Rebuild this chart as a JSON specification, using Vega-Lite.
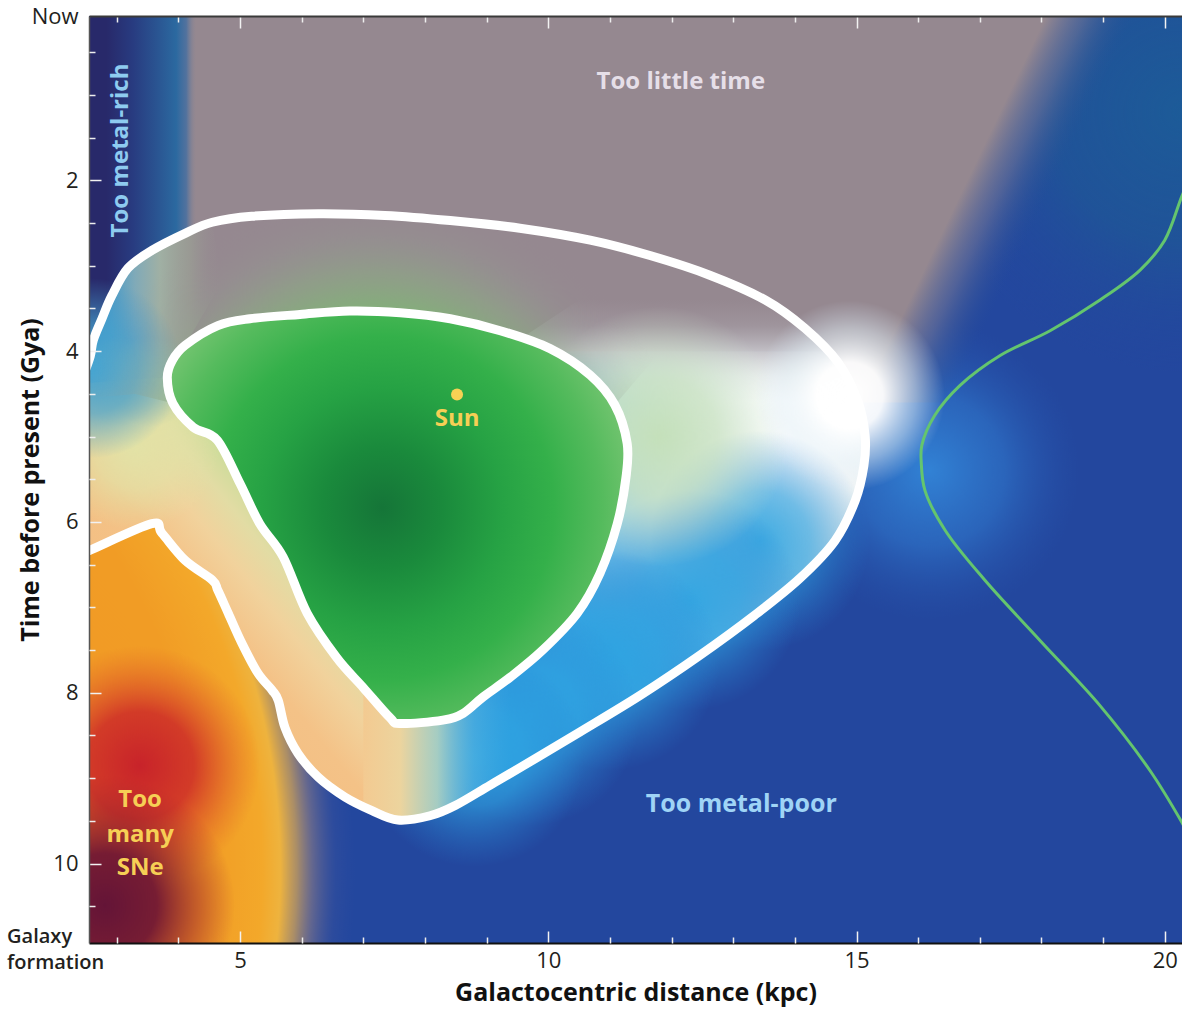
{
  "$schema": "https://vega.github.io/schema/vega-lite/v6.json",
  "width": 1093,
  "height": 927,
  "autosize": {"type": "none"},
  "padding": {"left": 89, "top": 16, "right": 0, "bottom": 68},
  "background": "white",
  "config": {"view": {"fill": "#23479e", "stroke": null}, "font": "Open Sans"},
  "datasets": {
    "tealTR": [{"x": 20.28, "y": 1.2}],
    "bluemid": [{"x": 16.19, "y": 5.4}],
    "grey": [
      {"i": 0, "x": 3.95, "y": -0.5}, {"i": 1, "x": 18.4, "y": -0.5}, {"i": 2, "x": 15.0, "y": 4.6},
      {"i": 3, "x": 14.0, "y": 4.45}, {"i": 4, "x": 12.8, "y": 4.5}, {"i": 5, "x": 11.6, "y": 4.9},
      {"i": 6, "x": 11.0, "y": 5.0}, {"i": 7, "x": 10.68, "y": 4.28}, {"i": 8, "x": 10.03, "y": 3.97},
      {"i": 9, "x": 9.22, "y": 3.76}, {"i": 10, "x": 8.41, "y": 3.62}, {"i": 11, "x": 7.6, "y": 3.55},
      {"i": 12, "x": 6.78, "y": 3.53}, {"i": 13, "x": 5.97, "y": 3.57}, {"i": 14, "x": 5.16, "y": 3.62},
      {"i": 15, "x": 4.64, "y": 3.7}, {"i": 16, "x": 4.11, "y": 3.93}, {"i": 17, "x": 3.9, "y": 4.11},
      {"i": 18, "x": 3.3, "y": 4.35}, {"i": 19, "x": 2.5, "y": 4.35}, {"i": 20, "x": 2.5, "y": 3.2},
      {"i": 21, "x": 3.95, "y": 1.5}
    ],
    "greyfade": [
      {"i": 0, "x": 18.1, "y": -0.5}, {"i": 1, "x": 19.9, "y": -0.5},
      {"i": 2, "x": 16.5, "y": 4.6}, {"i": 3, "x": 14.7, "y": 4.6}
    ],
    "navy": [
      {"i": 0, "x": 2.3, "y": -0.5}, {"i": 1, "x": 4.3, "y": -0.5}, {"i": 2, "x": 4.3, "y": 2.57},
      {"i": 3, "x": 4.11, "y": 2.62}, {"i": 4, "x": 3.57, "y": 2.82}, {"i": 5, "x": 3.18, "y": 3.03},
      {"i": 6, "x": 2.92, "y": 3.35}, {"i": 7, "x": 2.76, "y": 3.62}, {"i": 8, "x": 2.62, "y": 3.87},
      {"i": 9, "x": 2.57, "y": 4.06}, {"i": 10, "x": 2.3, "y": 4.3}
    ],
    "leftpale": [
      {"i": 0, "x": 2.45, "y": 4.3}, {"i": 1, "x": 2.57, "y": 4.06}, {"i": 2, "x": 2.62, "y": 3.87},
      {"i": 3, "x": 2.76, "y": 3.62}, {"i": 4, "x": 2.92, "y": 3.35}, {"i": 5, "x": 3.18, "y": 3.03},
      {"i": 6, "x": 3.57, "y": 2.82}, {"i": 7, "x": 4.11, "y": 2.62}, {"i": 8, "x": 4.55, "y": 2.49},
      {"i": 9, "x": 4.7, "y": 3.2}, {"i": 10, "x": 4.11, "y": 3.93}, {"i": 11, "x": 3.9, "y": 4.11},
      {"i": 12, "x": 3.82, "y": 4.31}, {"i": 13, "x": 3.3, "y": 4.33}, {"i": 14, "x": 2.4, "y": 4.38}
    ],
    "peach": [
      {"i": 0, "x": 2.4, "y": 6.38}, {"i": 1, "x": 2.57, "y": 6.33}, {"i": 2, "x": 3.57, "y": 6.02},
      {"i": 3, "x": 3.73, "y": 6.13}, {"i": 4, "x": 4.11, "y": 6.45}, {"i": 5, "x": 4.55, "y": 6.68},
      {"i": 6, "x": 4.64, "y": 6.8}, {"i": 7, "x": 4.81, "y": 7.07}, {"i": 8, "x": 5.03, "y": 7.42},
      {"i": 9, "x": 5.29, "y": 7.77}, {"i": 10, "x": 5.52, "y": 7.97}, {"i": 11, "x": 5.62, "y": 8.09},
      {"i": 12, "x": 5.73, "y": 8.41}, {"i": 13, "x": 5.94, "y": 8.71}, {"i": 14, "x": 6.27, "y": 8.99},
      {"i": 15, "x": 6.7, "y": 9.22}, {"i": 16, "x": 7.14, "y": 9.38}, {"i": 17, "x": 7.56, "y": 9.49},
      {"i": 18, "x": 8.08, "y": 9.44}, {"i": 19, "x": 8.3, "y": 8.9}, {"i": 20, "x": 7.6, "y": 8.36},
      {"i": 21, "x": 7.43, "y": 8.29}, {"i": 22, "x": 7.0, "y": 7.94}, {"i": 23, "x": 6.57, "y": 7.59},
      {"i": 24, "x": 6.09, "y": 7.07}, {"i": 25, "x": 5.7, "y": 6.41}, {"i": 26, "x": 5.32, "y": 6.02},
      {"i": 27, "x": 5.0, "y": 5.55}, {"i": 28, "x": 4.63, "y": 5.04}, {"i": 29, "x": 4.24, "y": 4.89},
      {"i": 30, "x": 3.91, "y": 4.61}, {"i": 31, "x": 3.82, "y": 4.31}, {"i": 32, "x": 3.3, "y": 4.27},
      {"i": 33, "x": 2.4, "y": 4.3}
    ],
    "yellow": [{"x": 3.3, "y": 5.1}],
    "seam": [{"x": 3.0, "y": 4.36}, {"x": 3.55, "y": 4.36}],
    "teal": [{"x": 2.6, "y": 4.2}],
    "orange": [
      {"i": 0, "x": 2.4, "y": 6.38}, {"i": 1, "x": 2.57, "y": 6.33}, {"i": 2, "x": 3.57, "y": 6.02},
      {"i": 3, "x": 3.73, "y": 6.13}, {"i": 4, "x": 4.11, "y": 6.45}, {"i": 5, "x": 4.55, "y": 6.68},
      {"i": 6, "x": 4.64, "y": 6.8}, {"i": 7, "x": 4.81, "y": 7.07}, {"i": 8, "x": 5.03, "y": 7.42},
      {"i": 9, "x": 5.29, "y": 7.77}, {"i": 10, "x": 5.52, "y": 7.97}, {"i": 11, "x": 5.62, "y": 8.09},
      {"i": 12, "x": 5.73, "y": 8.41}, {"i": 13, "x": 5.94, "y": 8.71}, {"i": 14, "x": 6.27, "y": 8.99},
      {"i": 15, "x": 6.5, "y": 9.2}, {"i": 16, "x": 7.2, "y": 9.6}, {"i": 17, "x": 7.8, "y": 10.4},
      {"i": 18, "x": 8.0, "y": 11.2}, {"i": 19, "x": 2.4, "y": 11.2}
    ],
    "red": [{"x": 3.378, "y": 8.852}],
    "maroon": [{"x": 2.81, "y": 10.49}],
    "pale": [
      {"i": 0, "x": 10.09, "y": 4.0}, {"i": 1, "x": 10.68, "y": 4.28},
      {"i": 2, "x": 11.08, "y": 4.63}, {"i": 3, "x": 11.28, "y": 5.08}, {"i": 4, "x": 11.26, "y": 5.48},
      {"i": 5, "x": 11.12, "y": 6.02}, {"i": 6, "x": 10.84, "y": 6.6}, {"i": 7, "x": 10.47, "y": 7.07},
      {"i": 8, "x": 9.91, "y": 7.5}, {"i": 9, "x": 9.38, "y": 7.82}, {"i": 10, "x": 8.94, "y": 8.05},
      {"i": 11, "x": 8.62, "y": 8.24}, {"i": 12, "x": 8.29, "y": 8.32}, {"i": 13, "x": 7.6, "y": 8.36},
      {"i": 14, "x": 7.56, "y": 9.49}, {"i": 15, "x": 8.08, "y": 9.44}, {"i": 16, "x": 8.49, "y": 9.32},
      {"i": 17, "x": 9.06, "y": 9.08}, {"i": 18, "x": 9.7, "y": 8.81}, {"i": 19, "x": 10.51, "y": 8.46},
      {"i": 20, "x": 11.49, "y": 8.03}, {"i": 21, "x": 12.46, "y": 7.56}, {"i": 22, "x": 13.35, "y": 7.09},
      {"i": 23, "x": 14.08, "y": 6.66}, {"i": 24, "x": 14.65, "y": 6.22}, {"i": 25, "x": 14.98, "y": 5.75},
      {"i": 26, "x": 15.12, "y": 5.34}, {"i": 27, "x": 15.14, "y": 4.99}, {"i": 28, "x": 15.02, "y": 4.58},
      {"i": 29, "x": 14.7, "y": 4.13}, {"i": 30, "x": 14.52, "y": 4.0}
    ],
    "cyan": [
      {"x": 13.43, "y": 6.22}, {"x": 12.3, "y": 6.92}, {"x": 11.0, "y": 7.62},
      {"x": 9.7, "y": 8.27}, {"x": 8.8, "y": 8.75}
    ],
    "transition": [
      {"i": 0, "x": 7.0, "y": 7.94}, {"i": 1, "x": 7.43, "y": 8.29}, {"i": 2, "x": 7.6, "y": 8.36},
      {"i": 3, "x": 8.29, "y": 8.32}, {"i": 4, "x": 8.62, "y": 8.24}, {"i": 5, "x": 8.94, "y": 8.05},
      {"i": 6, "x": 9.38, "y": 7.82}, {"i": 7, "x": 9.4, "y": 7.8}, {"i": 8, "x": 9.4, "y": 8.94},
      {"i": 9, "x": 9.06, "y": 9.08}, {"i": 10, "x": 8.49, "y": 9.32}, {"i": 11, "x": 8.08, "y": 9.44},
      {"i": 12, "x": 7.56, "y": 9.49}, {"i": 13, "x": 7.14, "y": 9.38}, {"i": 14, "x": 7.0, "y": 9.33}
    ],
    "band": [
      {"i": 0, "x": 10.5, "y": 3.4}, {"i": 1, "x": 13.52, "y": 3.4}, {"i": 2, "x": 14.16, "y": 3.73},
      {"i": 3, "x": 14.7, "y": 4.13}, {"i": 4, "x": 15.02, "y": 4.58}, {"i": 5, "x": 15.02, "y": 4.6},
      {"i": 6, "x": 11.0, "y": 4.6}, {"i": 7, "x": 10.68, "y": 4.28}, {"i": 8, "x": 10.03, "y": 3.97},
      {"i": 9, "x": 9.6, "y": 3.83}
    ],
    "palegreen": [{"x": 11.8, "y": 5.0}],
    "sage": [
      {"i": 0, "x": 2.57, "y": 4.06}, {"i": 1, "x": 2.62, "y": 3.87}, {"i": 2, "x": 2.76, "y": 3.62},
      {"i": 3, "x": 2.92, "y": 3.35}, {"i": 4, "x": 3.18, "y": 3.03}, {"i": 5, "x": 3.57, "y": 2.82},
      {"i": 6, "x": 4.11, "y": 2.62}, {"i": 7, "x": 4.55, "y": 2.49}, {"i": 8, "x": 5.19, "y": 2.42},
      {"i": 9, "x": 6.27, "y": 2.39}, {"i": 10, "x": 7.35, "y": 2.41}, {"i": 11, "x": 8.41, "y": 2.47},
      {"i": 12, "x": 9.54, "y": 2.56}, {"i": 13, "x": 10.68, "y": 2.7}, {"i": 14, "x": 11.65, "y": 2.88},
      {"i": 15, "x": 12.62, "y": 3.11}, {"i": 16, "x": 13.52, "y": 3.4}, {"i": 17, "x": 14.16, "y": 3.73},
      {"i": 18, "x": 12.0, "y": 3.85}, {"i": 19, "x": 11.08, "y": 4.63}, {"i": 20, "x": 10.68, "y": 4.28},
      {"i": 21, "x": 10.03, "y": 3.97}, {"i": 22, "x": 9.22, "y": 3.76}, {"i": 23, "x": 8.41, "y": 3.62},
      {"i": 24, "x": 7.6, "y": 3.55}, {"i": 25, "x": 6.78, "y": 3.53}, {"i": 26, "x": 5.97, "y": 3.57},
      {"i": 27, "x": 5.16, "y": 3.62}, {"i": 28, "x": 4.64, "y": 3.7}, {"i": 29, "x": 4.11, "y": 3.93},
      {"i": 30, "x": 3.9, "y": 4.11}, {"i": 31, "x": 3.82, "y": 4.31}, {"i": 32, "x": 3.91, "y": 4.61},
      {"i": 33, "x": 3.3, "y": 4.5}, {"i": 34, "x": 2.5, "y": 4.55}
    ],
    "glow": [{"x": 14.89, "y": 4.52}],
    "inner": [
      {"i": 0, "x": 3.82, "y": 4.31}, {"i": 1, "x": 3.9, "y": 4.11}, {"i": 2, "x": 4.11, "y": 3.93},
      {"i": 3, "x": 4.64, "y": 3.7}, {"i": 4, "x": 5.16, "y": 3.62}, {"i": 5, "x": 5.97, "y": 3.57},
      {"i": 6, "x": 6.78, "y": 3.53}, {"i": 7, "x": 7.6, "y": 3.55}, {"i": 8, "x": 8.41, "y": 3.62},
      {"i": 9, "x": 9.22, "y": 3.76}, {"i": 10, "x": 10.03, "y": 3.97}, {"i": 11, "x": 10.68, "y": 4.28},
      {"i": 12, "x": 11.08, "y": 4.63}, {"i": 13, "x": 11.28, "y": 5.08}, {"i": 14, "x": 11.26, "y": 5.48},
      {"i": 15, "x": 11.12, "y": 6.02}, {"i": 16, "x": 10.84, "y": 6.6}, {"i": 17, "x": 10.47, "y": 7.07},
      {"i": 18, "x": 9.91, "y": 7.5}, {"i": 19, "x": 9.38, "y": 7.82}, {"i": 20, "x": 8.94, "y": 8.05},
      {"i": 21, "x": 8.62, "y": 8.24}, {"i": 22, "x": 8.29, "y": 8.32}, {"i": 23, "x": 7.6, "y": 8.36},
      {"i": 24, "x": 7.43, "y": 8.29}, {"i": 25, "x": 7.0, "y": 7.94}, {"i": 26, "x": 6.57, "y": 7.59},
      {"i": 27, "x": 6.09, "y": 7.07}, {"i": 28, "x": 5.7, "y": 6.41}, {"i": 29, "x": 5.32, "y": 6.02},
      {"i": 30, "x": 5.0, "y": 5.55}, {"i": 31, "x": 4.63, "y": 5.04}, {"i": 32, "x": 4.24, "y": 4.89},
      {"i": 33, "x": 3.91, "y": 4.61}
    ],
    "outer": [
      {"i": 0, "x": 2.45, "y": 4.3}, {"i": 1, "x": 2.57, "y": 4.06}, {"i": 2, "x": 2.62, "y": 3.87},
      {"i": 3, "x": 2.76, "y": 3.62}, {"i": 4, "x": 2.92, "y": 3.35}, {"i": 5, "x": 3.18, "y": 3.03},
      {"i": 6, "x": 3.57, "y": 2.82}, {"i": 7, "x": 4.11, "y": 2.62}, {"i": 8, "x": 4.55, "y": 2.49},
      {"i": 9, "x": 5.19, "y": 2.42}, {"i": 10, "x": 6.27, "y": 2.39}, {"i": 11, "x": 7.35, "y": 2.41},
      {"i": 12, "x": 8.41, "y": 2.47}, {"i": 13, "x": 9.54, "y": 2.56}, {"i": 14, "x": 10.68, "y": 2.7},
      {"i": 15, "x": 11.65, "y": 2.88}, {"i": 16, "x": 12.62, "y": 3.11}, {"i": 17, "x": 13.52, "y": 3.4},
      {"i": 18, "x": 14.16, "y": 3.73}, {"i": 19, "x": 14.7, "y": 4.13}, {"i": 20, "x": 15.02, "y": 4.58},
      {"i": 21, "x": 15.14, "y": 4.99}, {"i": 22, "x": 15.12, "y": 5.34}, {"i": 23, "x": 14.98, "y": 5.75},
      {"i": 24, "x": 14.65, "y": 6.22}, {"i": 25, "x": 14.08, "y": 6.66}, {"i": 26, "x": 13.35, "y": 7.09},
      {"i": 27, "x": 12.46, "y": 7.56}, {"i": 28, "x": 11.49, "y": 8.03}, {"i": 29, "x": 10.51, "y": 8.46},
      {"i": 30, "x": 9.7, "y": 8.81}, {"i": 31, "x": 9.06, "y": 9.08}, {"i": 32, "x": 8.49, "y": 9.32},
      {"i": 33, "x": 8.08, "y": 9.44}, {"i": 34, "x": 7.56, "y": 9.49}, {"i": 35, "x": 7.14, "y": 9.38},
      {"i": 36, "x": 6.7, "y": 9.22}, {"i": 37, "x": 6.27, "y": 8.99}, {"i": 38, "x": 5.94, "y": 8.71},
      {"i": 39, "x": 5.73, "y": 8.41}, {"i": 40, "x": 5.62, "y": 8.09}, {"i": 41, "x": 5.52, "y": 7.97},
      {"i": 42, "x": 5.29, "y": 7.77}, {"i": 43, "x": 5.03, "y": 7.42}, {"i": 44, "x": 4.81, "y": 7.07},
      {"i": 45, "x": 4.64, "y": 6.8}, {"i": 46, "x": 4.55, "y": 6.68}, {"i": 47, "x": 4.11, "y": 6.45},
      {"i": 48, "x": 3.73, "y": 6.13}, {"i": 49, "x": 3.57, "y": 6.02}, {"i": 50, "x": 2.57, "y": 6.33},
      {"i": 51, "x": 2.4, "y": 6.38}
    ],
    "greenline": [
      {"i": 0, "x": 20.45, "y": 1.9}, {"i": 1, "x": 20.28, "y": 2.18}, {"i": 2, "x": 20.0, "y": 2.7},
      {"i": 3, "x": 19.6, "y": 3.05}, {"i": 4, "x": 18.95, "y": 3.4}, {"i": 5, "x": 18.14, "y": 3.76},
      {"i": 6, "x": 17.33, "y": 4.05}, {"i": 7, "x": 16.68, "y": 4.4}, {"i": 8, "x": 16.27, "y": 4.75},
      {"i": 9, "x": 16.06, "y": 5.1}, {"i": 10, "x": 16.05, "y": 5.3}, {"i": 11, "x": 16.11, "y": 5.63},
      {"i": 12, "x": 16.44, "y": 6.1}, {"i": 13, "x": 17.08, "y": 6.68}, {"i": 14, "x": 17.98, "y": 7.39},
      {"i": 15, "x": 18.95, "y": 8.15}, {"i": 16, "x": 19.76, "y": 8.91}, {"i": 17, "x": 20.28, "y": 9.52},
      {"i": 18, "x": 20.45, "y": 9.75}
    ],
    "sun": [{"x": 8.52, "y": 4.507}],
    "tooLittle": [{"x": 12.15, "y": 0.852, "label": "Too little time"}],
    "metalRich": [{"x": 3.07, "y": 1.65, "label": "Too metal-rich"}],
    "metalPoor": [{"x": 13.13, "y": 9.3, "label": "Too metal-poor"}],
    "yellowLabels": [
      {"x": 8.52, "y": 4.79, "label": "Sun"},
      {"x": 3.38, "y": 9.26, "label": "Too"},
      {"x": 3.38, "y": 9.66, "label": "many"},
      {"x": 3.38, "y": 10.05, "label": "SNe"}
    ],
    "galaxy": [{"x": 1.221, "y": 10.855, "label": "Galaxy\nformation"}]
  },
  "layer": [
    {
      "data": {"name": "tealTR"},
      "mark": {"type": "circle", "size": 270400, "opacity": 1, "stroke": "transparent", "strokeWidth": 0, "clip": true,
        "fill": {"gradient": "radial", "x1": 0.5, "y1": 0.5, "r1": 0, "x2": 0.5, "y2": 0.5, "r2": 0.5,
          "stops": [{"offset": 0, "color": "rgba(28,92,152,0.95)"}, {"offset": 0.5, "color": "rgba(30,88,150,0.7)"}, {"offset": 1, "color": "rgba(35,71,158,0)"}]}},
      "encoding": {
        "x": {"field": "x", "type": "quantitative", "scale": {"domain": [2.55, 20.28], "nice": false, "zero": false}, "axis": null},
        "y": {"field": "y", "type": "quantitative", "scale": {"domain": [0.075, 10.93], "reverse": true, "nice": false, "zero": false}, "axis": null}
      }
    },
    {
      "data": {"name": "bluemid"},
      "mark": {"type": "circle", "size": 90000, "opacity": 1, "stroke": "transparent", "strokeWidth": 0, "clip": true,
        "fill": {"gradient": "radial", "x1": 0.5, "y1": 0.5, "r1": 0, "x2": 0.5, "y2": 0.5, "r2": 0.5,
          "stops": [{"offset": 0, "color": "rgba(52,140,222,0.85)"}, {"offset": 0.5, "color": "rgba(50,130,215,0.5)"}, {"offset": 1, "color": "rgba(40,90,180,0)"}]}},
      "encoding": {
        "x": {"field": "x", "type": "quantitative", "scale": {"domain": [2.55, 20.28], "nice": false, "zero": false}, "axis": null},
        "y": {"field": "y", "type": "quantitative", "scale": {"domain": [0.075, 10.93], "reverse": true, "nice": false, "zero": false}, "axis": null}
      }
    },
    {
      "data": {"name": "grey"},
      "mark": {"type": "line", "interpolate": "linear-closed", "fill": "#958890", "stroke": "transparent", "strokeWidth": 0, "clip": true},
      "encoding": {
        "x": {"field": "x", "type": "quantitative", "scale": {"domain": [2.55, 20.28], "nice": false, "zero": false},
          "axis": {"orient": "top", "values": [3, 4, 6, 7, 8, 9, 11, 12, 13, 14, 16, 17, 18, 19], "labels": false, "domain": false, "grid": false, "ticks": true, "tickSize": -6, "tickColor": "#eeeeee", "tickWidth": 1.5, "title": null, "zindex": 1}},
        "y": {"field": "y", "type": "quantitative", "scale": {"domain": [0.075, 10.93], "reverse": true, "nice": false, "zero": false}, "axis": null},
        "order": {"field": "i", "type": "quantitative"}
      }
    },
    {
      "data": {"name": "greyfade"},
      "mark": {"type": "line", "interpolate": "linear-closed", "stroke": "transparent", "strokeWidth": 0, "clip": true,
        "fill": {"gradient": "linear", "x1": 0.6538, "y1": 0.0001, "x2": 0.8964, "y2": 0.1586,
          "stops": [{"offset": 0, "color": "rgba(149,136,144,1)"}, {"offset": 0.2, "color": "rgba(149,136,144,1)"}, {"offset": 0.55, "color": "rgba(112,116,150,0.6)"}, {"offset": 1, "color": "rgba(40,80,150,0)"}]}},
      "encoding": {
        "x": {"field": "x", "type": "quantitative", "scale": {"domain": [2.55, 20.28], "nice": false, "zero": false}, "axis": null},
        "y": {"field": "y", "type": "quantitative", "scale": {"domain": [0.075, 10.93], "reverse": true, "nice": false, "zero": false}, "axis": null},
        "order": {"field": "i", "type": "quantitative"}
      }
    },
    {
      "data": {"name": "navy"},
      "mark": {"type": "line", "interpolate": "linear-closed", "stroke": "transparent", "strokeWidth": 0, "clip": true,
        "fill": {"gradient": "linear", "x1": 0.0001, "y1": 0.0001, "x2": 1, "y2": 0.0001,
          "stops": [{"offset": 0, "color": "#28296a"}, {"offset": 0.267, "color": "#28296a"}, {"offset": 0.478, "color": "#283b80"}, {"offset": 0.682, "color": "#2a5592"}, {"offset": 0.832, "color": "#2b69a0"}, {"offset": 0.914, "color": "rgba(70,110,160,0.85)"}, {"offset": 1, "color": "rgba(149,136,144,0)"}]}},
      "encoding": {
        "x": {"field": "x", "type": "quantitative", "scale": {"domain": [2.55, 20.28], "nice": false, "zero": false}, "axis": null},
        "y": {"field": "y", "type": "quantitative", "scale": {"domain": [0.075, 10.93], "reverse": true, "nice": false, "zero": false}, "axis": null},
        "order": {"field": "i", "type": "quantitative"}
      }
    },
    {
      "data": {"name": "peach"},
      "mark": {"type": "line", "interpolate": "linear-closed", "stroke": "transparent", "strokeWidth": 0, "clip": true,
        "fill": {"gradient": "linear", "x1": 0.0001, "y1": 1, "x2": 1, "y2": 0.0001,
          "stops": [{"offset": 0, "color": "#f2b878"}, {"offset": 0.42, "color": "#f4c287"}, {"offset": 0.5, "color": "#f1d29c"}, {"offset": 0.56, "color": "#e2dca4"}, {"offset": 0.62, "color": "#c8dc98"}, {"offset": 1, "color": "#c0d890"}]}},
      "encoding": {
        "x": {"field": "x", "type": "quantitative", "scale": {"domain": [2.55, 20.28], "nice": false, "zero": false}, "axis": null},
        "y": {"field": "y", "type": "quantitative", "scale": {"domain": [0.075, 10.93], "reverse": true, "nice": false, "zero": false}, "axis": null},
        "order": {"field": "i", "type": "quantitative"}
      }
    },
    {
      "data": {"name": "leftpale"},
      "mark": {"type": "line", "interpolate": "linear-closed", "stroke": "transparent", "strokeWidth": 0, "clip": true,
        "fill": {"gradient": "linear", "x1": 0.0001, "y1": 0.0001, "x2": 1, "y2": 0.0001,
          "stops": [{"offset": 0, "color": "#3a8cc4"}, {"offset": 0.073, "color": "#3a8cc4"}, {"offset": 0.214, "color": "#4a9cc8"}, {"offset": 0.39, "color": "#80aab8"}, {"offset": 0.566, "color": "#a0b0a4"}, {"offset": 0.78, "color": "rgba(156,165,150,0.6)"}, {"offset": 1, "color": "rgba(150,140,145,0)"}]}},
      "encoding": {
        "x": {"field": "x", "type": "quantitative", "scale": {"domain": [2.55, 20.28], "nice": false, "zero": false}, "axis": null},
        "y": {"field": "y", "type": "quantitative", "scale": {"domain": [0.075, 10.93], "reverse": true, "nice": false, "zero": false}, "axis": null},
        "order": {"field": "i", "type": "quantitative"}
      }
    },
    {
      "data": {"name": "yellow"},
      "mark": {"type": "circle", "size": 28900, "opacity": 1, "stroke": "transparent", "strokeWidth": 0, "clip": true,
        "fill": {"gradient": "radial", "x1": 0.5, "y1": 0.5, "r1": 0, "x2": 0.5, "y2": 0.5, "r2": 0.5,
          "stops": [{"offset": 0, "color": "rgba(226,226,166,1)"}, {"offset": 0.5, "color": "rgba(226,226,166,0.7)"}, {"offset": 1, "color": "rgba(226,226,166,0)"}]}},
      "encoding": {
        "x": {"field": "x", "type": "quantitative", "scale": {"domain": [2.55, 20.28], "nice": false, "zero": false}, "axis": null},
        "y": {"field": "y", "type": "quantitative", "scale": {"domain": [0.075, 10.93], "reverse": true, "nice": false, "zero": false}, "axis": null}
      }
    },
    {
      "data": {"name": "seam"},
      "mark": {"type": "circle", "size": 8100, "opacity": 1, "stroke": "transparent", "strokeWidth": 0, "clip": true,
        "fill": {"gradient": "radial", "x1": 0.5, "y1": 0.5, "r1": 0, "x2": 0.5, "y2": 0.5, "r2": 0.5,
          "stops": [{"offset": 0, "color": "rgba(176,198,168,0.9)"}, {"offset": 0.5, "color": "rgba(176,198,168,0.6)"}, {"offset": 1, "color": "rgba(176,198,168,0)"}]}},
      "encoding": {
        "x": {"field": "x", "type": "quantitative", "scale": {"domain": [2.55, 20.28], "nice": false, "zero": false}, "axis": null},
        "y": {"field": "y", "type": "quantitative", "scale": {"domain": [0.075, 10.93], "reverse": true, "nice": false, "zero": false}, "axis": null}
      }
    },
    {
      "data": {"name": "teal"},
      "mark": {"type": "circle", "size": 32400, "opacity": 1, "stroke": "transparent", "strokeWidth": 0, "clip": true,
        "fill": {"gradient": "radial", "x1": 0.5, "y1": 0.5, "r1": 0, "x2": 0.5, "y2": 0.5, "r2": 0.5,
          "stops": [{"offset": 0, "color": "rgba(70,165,210,1)"}, {"offset": 0.5, "color": "rgba(70,160,205,0.7)"}, {"offset": 1, "color": "rgba(70,150,200,0)"}]}},
      "encoding": {
        "x": {"field": "x", "type": "quantitative", "scale": {"domain": [2.55, 20.28], "nice": false, "zero": false}, "axis": null},
        "y": {"field": "y", "type": "quantitative", "scale": {"domain": [0.075, 10.93], "reverse": true, "nice": false, "zero": false}, "axis": null}
      }
    },
    {
      "data": {"name": "orange"},
      "mark": {"type": "line", "interpolate": "linear-closed", "stroke": "transparent", "strokeWidth": 0, "clip": true,
        "fill": {"gradient": "radial", "x1": -0.975, "y1": 0.784, "r1": 0, "x2": -0.975, "y2": 0.784, "r2": 1.7074,
          "stops": [{"offset": 0, "color": "#ee9424"}, {"offset": 0.8, "color": "#f19c25"}, {"offset": 0.877, "color": "#f3a82a"}, {"offset": 0.901, "color": "#eeb33e"}, {"offset": 0.923, "color": "rgba(215,165,85,0.75)"}, {"offset": 0.944, "color": "rgba(175,140,125,0.45)"}, {"offset": 0.974, "color": "rgba(110,105,150,0.12)"}, {"offset": 1, "color": "rgba(80,90,160,0)"}]}},
      "encoding": {
        "x": {"field": "x", "type": "quantitative", "scale": {"domain": [2.55, 20.28], "nice": false, "zero": false}, "axis": null},
        "y": {"field": "y", "type": "quantitative", "scale": {"domain": [0.075, 10.93], "reverse": true, "nice": false, "zero": false}, "axis": null},
        "order": {"field": "i", "type": "quantitative"}
      }
    },
    {
      "data": {"name": "red"},
      "mark": {"type": "circle", "size": 57600, "opacity": 1, "stroke": "transparent", "strokeWidth": 0, "clip": true,
        "fill": {"gradient": "radial", "x1": 0.5, "y1": 0.5, "r1": 0, "x2": 0.5, "y2": 0.5, "r2": 0.5,
          "stops": [{"offset": 0, "color": "rgba(200,35,42,1)"}, {"offset": 0.45, "color": "rgba(205,42,40,0.85)"}, {"offset": 1, "color": "rgba(225,90,40,0)"}]}},
      "encoding": {
        "x": {"field": "x", "type": "quantitative", "scale": {"domain": [2.55, 20.28], "nice": false, "zero": false}, "axis": null},
        "y": {"field": "y", "type": "quantitative", "scale": {"domain": [0.075, 10.93], "reverse": true, "nice": false, "zero": false}, "axis": null}
      }
    },
    {
      "data": {"name": "maroon"},
      "mark": {"type": "circle", "size": 67600, "opacity": 1, "stroke": "transparent", "strokeWidth": 0, "clip": true,
        "fill": {"gradient": "radial", "x1": 0.5, "y1": 0.5, "r1": 0, "x2": 0.5, "y2": 0.5, "r2": 0.5,
          "stops": [{"offset": 0, "color": "rgba(100,20,55,1)"}, {"offset": 0.4, "color": "rgba(112,22,52,0.95)"}, {"offset": 0.7, "color": "rgba(150,28,45,0.5)"}, {"offset": 1, "color": "rgba(170,30,45,0)"}]}},
      "encoding": {
        "x": {"field": "x", "type": "quantitative", "scale": {"domain": [2.55, 20.28], "nice": false, "zero": false}, "axis": null},
        "y": {"field": "y", "type": "quantitative", "scale": {"domain": [0.075, 10.93], "reverse": true, "nice": false, "zero": false}, "axis": null}
      }
    },
    {
      "data": {"name": "pale"},
      "mark": {"type": "line", "interpolate": "linear-closed", "stroke": "transparent", "strokeWidth": 0, "clip": true,
        "fill": {"gradient": "radial", "x1": 0.9023, "y1": 0.1051, "r1": 0, "x2": 0.9023, "y2": 0.1051, "r2": 0.896,
          "stops": [{"offset": 0, "color": "#ffffff"}, {"offset": 0.119, "color": "#ffffff"}, {"offset": 0.214, "color": "#f2f6f6"}, {"offset": 0.333, "color": "#dceaea"}, {"offset": 0.476, "color": "#b0d6e2"}, {"offset": 0.619, "color": "#70c0e8"}, {"offset": 0.762, "color": "#40aae2"}, {"offset": 1, "color": "#2f9cdc"}]}},
      "encoding": {
        "x": {"field": "x", "type": "quantitative", "scale": {"domain": [2.55, 20.28], "nice": false, "zero": false}, "axis": null},
        "y": {"field": "y", "type": "quantitative", "scale": {"domain": [0.075, 10.93], "reverse": true, "nice": false, "zero": false}, "axis": null},
        "order": {"field": "i", "type": "quantitative"}
      }
    },
    {
      "data": {"name": "cyan"},
      "mark": {"type": "circle", "size": 48400, "opacity": 1, "stroke": "transparent", "strokeWidth": 0, "clip": true,
        "fill": {"gradient": "radial", "x1": 0.5, "y1": 0.5, "r1": 0, "x2": 0.5, "y2": 0.5, "r2": 0.5,
          "stops": [{"offset": 0, "color": "rgba(46,165,226,0.9)"}, {"offset": 0.45, "color": "rgba(46,160,224,0.65)"}, {"offset": 1, "color": "rgba(40,130,210,0)"}]}},
      "encoding": {
        "x": {"field": "x", "type": "quantitative", "scale": {"domain": [2.55, 20.28], "nice": false, "zero": false}, "axis": null},
        "y": {"field": "y", "type": "quantitative", "scale": {"domain": [0.075, 10.93], "reverse": true, "nice": false, "zero": false}, "axis": null}
      }
    },
    {
      "data": {"name": "transition"},
      "mark": {"type": "line", "interpolate": "linear-closed", "stroke": "transparent", "strokeWidth": 0, "clip": true,
        "fill": {"gradient": "linear", "x1": 0.0001, "y1": 0.0001, "x2": 1, "y2": 0.0001,
          "stops": [{"offset": 0, "color": "#f3ca91"}, {"offset": 0.25, "color": "#ecd49e"}, {"offset": 0.5, "color": "rgba(205,220,185,0.75)"}, {"offset": 0.75, "color": "rgba(120,190,220,0.3)"}, {"offset": 1, "color": "rgba(80,170,225,0)"}]}},
      "encoding": {
        "x": {"field": "x", "type": "quantitative", "scale": {"domain": [2.55, 20.28], "nice": false, "zero": false}, "axis": null},
        "y": {"field": "y", "type": "quantitative", "scale": {"domain": [0.075, 10.93], "reverse": true, "nice": false, "zero": false}, "axis": null},
        "order": {"field": "i", "type": "quantitative"}
      }
    },
    {
      "data": {"name": "band"},
      "mark": {"type": "line", "interpolate": "linear-closed", "stroke": "transparent", "strokeWidth": 0, "clip": true,
        "fill": {"gradient": "linear", "x1": 0.001, "y1": 0.0001, "x2": 0.001, "y2": 1,
          "stops": [{"offset": 0, "color": "rgba(175,170,178,0)"}, {"offset": 0.25, "color": "rgba(182,178,186,0.3)"}, {"offset": 0.5, "color": "rgba(196,194,200,0.95)"}, {"offset": 0.75, "color": "rgba(215,220,220,0.45)"}, {"offset": 1, "color": "rgba(225,232,230,0)"}]}},
      "encoding": {
        "x": {"field": "x", "type": "quantitative", "scale": {"domain": [2.55, 20.28], "nice": false, "zero": false}, "axis": null},
        "y": {"field": "y", "type": "quantitative", "scale": {"domain": [0.075, 10.93], "reverse": true, "nice": false, "zero": false}, "axis": null},
        "order": {"field": "i", "type": "quantitative"}
      }
    },
    {
      "data": {"name": "palegreen"},
      "mark": {"type": "circle", "size": 67600, "opacity": 1, "stroke": "transparent", "strokeWidth": 0, "clip": true,
        "fill": {"gradient": "radial", "x1": 0.5, "y1": 0.5, "r1": 0, "x2": 0.5, "y2": 0.5, "r2": 0.5,
          "stops": [{"offset": 0, "color": "rgba(196,224,184,0.95)"}, {"offset": 0.45, "color": "rgba(200,226,190,0.7)"}, {"offset": 1, "color": "rgba(210,232,210,0)"}]}},
      "encoding": {
        "x": {"field": "x", "type": "quantitative", "scale": {"domain": [2.55, 20.28], "nice": false, "zero": false}, "axis": null},
        "y": {"field": "y", "type": "quantitative", "scale": {"domain": [0.075, 10.93], "reverse": true, "nice": false, "zero": false}, "axis": null}
      }
    },
    {
      "data": {"name": "sage"},
      "mark": {"type": "line", "interpolate": "linear-closed", "stroke": "transparent", "strokeWidth": 0, "clip": true,
        "fill": {"gradient": "radial", "x1": 0.4016, "y1": 0.7579, "r1": 0, "x2": 0.4016, "y2": 0.7579, "r2": 0.4326,
          "stops": [{"offset": 0, "color": "rgba(130,178,120,0.9)"}, {"offset": 0.594, "color": "rgba(130,178,120,0.9)"}, {"offset": 0.72, "color": "rgba(140,172,132,0.55)"}, {"offset": 0.84, "color": "rgba(148,160,145,0.2)"}, {"offset": 0.92, "color": "rgba(149,150,145,0.05)"}, {"offset": 1, "color": "rgba(149,140,144,0)"}]}},
      "encoding": {
        "x": {"field": "x", "type": "quantitative", "scale": {"domain": [2.55, 20.28], "nice": false, "zero": false}, "axis": null},
        "y": {"field": "y", "type": "quantitative", "scale": {"domain": [0.075, 10.93], "reverse": true, "nice": false, "zero": false}, "axis": null},
        "order": {"field": "i", "type": "quantitative"}
      }
    },
    {
      "data": {"name": "glow"},
      "mark": {"type": "circle", "size": 36100, "opacity": 1, "stroke": "transparent", "strokeWidth": 0, "clip": true,
        "fill": {"gradient": "radial", "x1": 0.5, "y1": 0.5, "r1": 0, "x2": 0.5, "y2": 0.5, "r2": 0.5,
          "stops": [{"offset": 0, "color": "rgba(255,255,255,1)"}, {"offset": 0.35, "color": "rgba(255,255,255,0.95)"}, {"offset": 0.7, "color": "rgba(225,238,245,0.5)"}, {"offset": 1, "color": "rgba(210,225,240,0)"}]}},
      "encoding": {
        "x": {"field": "x", "type": "quantitative", "scale": {"domain": [2.55, 20.28], "nice": false, "zero": false}, "axis": null},
        "y": {"field": "y", "type": "quantitative", "scale": {"domain": [0.075, 10.93], "reverse": true, "nice": false, "zero": false}, "axis": null}
      }
    },
    {
      "data": {"name": "inner"},
      "mark": {"type": "line", "interpolate": "cardinal-closed", "stroke": "transparent", "strokeWidth": 0, "clip": true,
        "fill": {"gradient": "radial", "x1": 0.467, "y1": 0.479, "r1": 0, "x2": 0.467, "y2": 0.479, "r2": 0.62,
          "stops": [{"offset": 0, "color": "#157538"}, {"offset": 0.21, "color": "#1a8a3c"}, {"offset": 0.42, "color": "#26a244"}, {"offset": 0.6, "color": "#34b04a"}, {"offset": 0.77, "color": "#55bb5d"}, {"offset": 1, "color": "#8ccc80"}]}},
      "encoding": {
        "x": {"field": "x", "type": "quantitative", "scale": {"domain": [2.55, 20.28], "nice": false, "zero": false}, "axis": null},
        "y": {"field": "y", "type": "quantitative", "scale": {"domain": [0.075, 10.93], "reverse": true, "nice": false, "zero": false}, "axis": null},
        "order": {"field": "i", "type": "quantitative"}
      }
    },
    {
      "data": {"name": "inner"},
      "mark": {"type": "line", "interpolate": "cardinal-closed", "stroke": "#ffffff", "strokeWidth": 9, "clip": true},
      "encoding": {
        "x": {"field": "x", "type": "quantitative", "scale": {"domain": [2.55, 20.28], "nice": false, "zero": false},
          "axis": {"orient": "bottom", "values": [5, 10, 15, 20], "labels": false, "domain": false, "grid": false, "ticks": true, "tickSize": -12, "tickColor": "#f2f2f2", "tickWidth": 1.5, "title": null, "zindex": 1}},
        "y": {"field": "y", "type": "quantitative", "scale": {"domain": [0.075, 10.93], "reverse": true, "nice": false, "zero": false},
          "axis": {"orient": "left", "values": [2, 4, 6, 8, 10], "labels": false, "domain": false, "grid": false, "ticks": true, "tickSize": -12, "tickColor": "#f2f2f2", "tickWidth": 1.5, "title": null, "zindex": 1}},
        "order": {"field": "i", "type": "quantitative"}
      }
    },
    {
      "data": {"name": "outer"},
      "mark": {"type": "line", "interpolate": "cardinal", "stroke": "#ffffff", "strokeWidth": 9, "clip": true},
      "encoding": {
        "x": {"field": "x", "type": "quantitative", "scale": {"domain": [2.55, 20.28], "nice": false, "zero": false},
          "axis": {"orient": "bottom", "values": [5, 10, 15, 20], "format": "d", "ticks": false, "domain": true, "domainColor": "#111111", "domainWidth": 2, "grid": false, "labelFontSize": 22, "labelColor": "#231f20", "labelPadding": 7, "labelFlush": false, "title": "Galactocentric distance (kpc)", "titleFontSize": 25, "titleFontWeight": "bold", "titleColor": "#111111", "titlePadding": 9, "zindex": 1}},
        "y": {"field": "y", "type": "quantitative", "scale": {"domain": [0.075, 10.93], "reverse": true, "nice": false, "zero": false},
          "axis": {"orient": "left", "values": [0.075, 2, 4, 6, 8, 10], "labelExpr": "datum.value < 1 ? 'Now' : format(datum.value, 'd')", "ticks": false, "domain": true, "domainColor": "#555555", "domainWidth": 1.5, "grid": false, "labelFontSize": 22, "labelColor": "#231f20", "labelPadding": 11, "labelFlush": false, "title": "Time before present (Gya)", "titleFontSize": 25, "titleFontWeight": "bold", "titleColor": "#111111", "titleX": -59, "titleY": 463.5, "titleAngle": 270, "titleBaseline": "middle", "titleAlign": "center", "zindex": 1}},
        "order": {"field": "i", "type": "quantitative"}
      }
    },
    {
      "data": {"name": "greenline"},
      "mark": {"type": "line", "interpolate": "catmull-rom", "stroke": "#64c56e", "strokeWidth": 3, "clip": true},
      "encoding": {
        "x": {"field": "x", "type": "quantitative", "scale": {"domain": [2.55, 20.28], "nice": false, "zero": false},
          "axis": {"orient": "bottom", "values": [3, 4, 6, 7, 8, 9, 11, 12, 13, 14, 16, 17, 18, 19], "labels": false, "domain": false, "grid": false, "ticks": true, "tickSize": -6, "tickColor": "#eeeeee", "tickWidth": 1.5, "title": null, "zindex": 1}},
        "y": {"field": "y", "type": "quantitative", "scale": {"domain": [0.075, 10.93], "reverse": true, "nice": false, "zero": false},
          "axis": {"orient": "left", "values": [0.5, 1, 1.5, 2.5, 3, 3.5, 4.5, 5, 5.5, 6.5, 7, 7.5, 8.5, 9, 9.5, 10.5], "labels": false, "domain": false, "grid": false, "ticks": true, "tickSize": -6, "tickColor": "#eeeeee", "tickWidth": 1.5, "title": null, "zindex": 1}},
        "order": {"field": "i", "type": "quantitative"}
      }
    },
    {
      "data": {"name": "sun"},
      "mark": {"type": "circle", "size": 144, "opacity": 1, "fill": "#f7d154", "stroke": "transparent", "strokeWidth": 0},
      "encoding": {
        "x": {"field": "x", "type": "quantitative", "scale": {"domain": [2.55, 20.28], "nice": false, "zero": false},
          "axis": {"orient": "top", "values": [5, 10, 15, 20], "labels": false, "domain": true, "domainColor": "#3a3a3a", "domainWidth": 2, "grid": false, "ticks": true, "tickSize": -12, "tickColor": "#f2f2f2", "tickWidth": 1.5, "title": null, "zindex": 1}},
        "y": {"field": "y", "type": "quantitative", "scale": {"domain": [0.075, 10.93], "reverse": true, "nice": false, "zero": false}, "axis": null}
      }
    },
    {
      "data": {"name": "tooLittle"},
      "mark": {"type": "text", "font": "Open Sans", "fontSize": 24, "fontWeight": "bold", "color": "#e6dfe8", "align": "center", "baseline": "middle"},
      "encoding": {
        "x": {"field": "x", "type": "quantitative", "scale": {"domain": [2.55, 20.28], "nice": false, "zero": false}, "axis": null},
        "y": {"field": "y", "type": "quantitative", "scale": {"domain": [0.075, 10.93], "reverse": true, "nice": false, "zero": false}, "axis": null},
        "text": {"field": "label"}
      }
    },
    {
      "data": {"name": "metalRich"},
      "mark": {"type": "text", "font": "Open Sans", "fontSize": 24, "fontWeight": "bold", "color": "#8ecbf0", "align": "center", "baseline": "middle", "angle": 270},
      "encoding": {
        "x": {"field": "x", "type": "quantitative", "scale": {"domain": [2.55, 20.28], "nice": false, "zero": false}, "axis": null},
        "y": {"field": "y", "type": "quantitative", "scale": {"domain": [0.075, 10.93], "reverse": true, "nice": false, "zero": false}, "axis": null},
        "text": {"field": "label"}
      }
    },
    {
      "data": {"name": "metalPoor"},
      "mark": {"type": "text", "font": "Open Sans", "fontSize": 25, "fontWeight": "bold", "color": "#9fd4f6", "align": "center", "baseline": "middle"},
      "encoding": {
        "x": {"field": "x", "type": "quantitative", "scale": {"domain": [2.55, 20.28], "nice": false, "zero": false}, "axis": null},
        "y": {"field": "y", "type": "quantitative", "scale": {"domain": [0.075, 10.93], "reverse": true, "nice": false, "zero": false}, "axis": null},
        "text": {"field": "label"}
      }
    },
    {
      "data": {"name": "yellowLabels"},
      "mark": {"type": "text", "font": "Open Sans", "fontSize": 24, "fontWeight": "bold", "color": "#f6cf55", "align": "center", "baseline": "middle"},
      "encoding": {
        "x": {"field": "x", "type": "quantitative", "scale": {"domain": [2.55, 20.28], "nice": false, "zero": false}, "axis": null},
        "y": {"field": "y", "type": "quantitative", "scale": {"domain": [0.075, 10.93], "reverse": true, "nice": false, "zero": false}, "axis": null},
        "text": {"field": "label"}
      }
    },
    {
      "data": {"name": "galaxy"},
      "mark": {"type": "text", "font": "Open Sans", "fontSize": 20, "fontWeight": 600, "color": "#231f20", "align": "left", "baseline": "middle", "lineBreak": "\n", "lineHeight": 26},
      "encoding": {
        "x": {"field": "x", "type": "quantitative", "scale": {"domain": [2.55, 20.28], "nice": false, "zero": false}, "axis": null},
        "y": {"field": "y", "type": "quantitative", "scale": {"domain": [0.075, 10.93], "reverse": true, "nice": false, "zero": false}, "axis": null},
        "text": {"field": "label"}
      }
    }
  ],
  "resolve": {"axis": {"x": "independent", "y": "independent"}}
}
